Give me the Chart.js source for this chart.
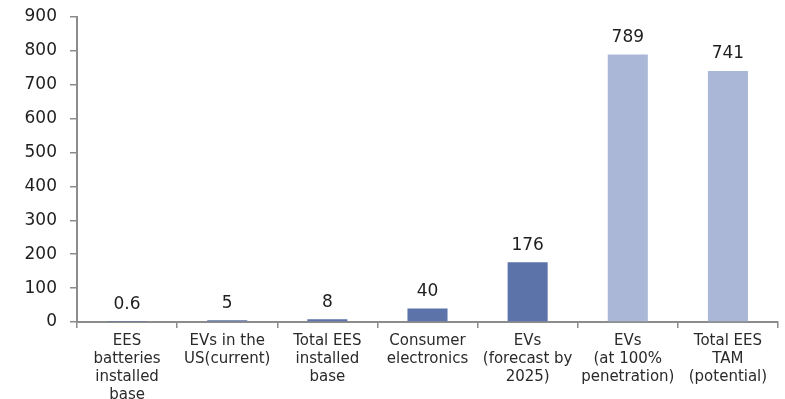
<!DOCTYPE html>
<html>
<head>
<meta charset="utf-8">
<script src="https://cdn.jsdelivr.net/npm/chart.js@4/dist/chart.umd.min.js"></script>
<style>
    html, body { margin: 0; padding: 0; background: #fff; }
    #wrap { width: 785px; height: 399px; }
</style>
</head>
<body>
<div id="wrap"><canvas id="barChart" width="785" height="399"></canvas></div>
<script>
const categories = [
    ["EES", "batteries", "installed", "base"],
    ["EVs in the", "US(current)"],
    ["Total EES", "installed", "base"],
    ["Consumer", "electronics"],
    ["EVs", "(forecast by", "2025)"],
    ["EVs", "(at 100%", "penetration)"],
    ["Total EES", "TAM", "(potential)"]
];
const values = [0.6, 5, 8, 40, 176, 789, 741];
const valueLabels = ["0.6", "5", "8", "40", "176", "789", "741"];
const yTicks = [0, 100, 200, 300, 400, 500, 600, 700, 800, 900];

const darkBar = "#5c73a9";
const lightBar = "#aab7d6";
const barColors = values.map((v, i) => i >= 5 ? lightBar : darkBar);

// draws the number above each bar
const valueLabelPlugin = {
    id: "valueLabels",
    afterDatasetsDraw(chart) {
        const ctx = chart.ctx;
        const meta = chart.getDatasetMeta(0);
        ctx.save();
        ctx.font = "17px 'DejaVu Sans'";
        ctx.fillStyle = "#1e1e1e";
        ctx.textAlign = "center";
        ctx.textBaseline = "middle";
        meta.data.forEach((bar, i) => {
            ctx.fillText(valueLabels[i], bar.x, bar.y - 17);
        });
        ctx.restore();
    }
};

new Chart(document.getElementById("barChart").getContext("2d"), {
    type: "bar",
    data: {
        labels: categories,
        datasets: [{
            data: values,
            backgroundColor: barColors,
            borderWidth: 0,
            barPercentage: 0.8,
            categoryPercentage: 0.5
        }]
    },
    options: {
        responsive: false,
        animation: false,
        layout: { padding: { top: 17, right: 7, left: 0, bottom: 0 } },
        plugins: {
            legend: { display: false },
            tooltip: { enabled: false }
        },
        scales: {
            x: {
                grid: {
                    offset: true,
                    drawOnChartArea: false,
                    drawTicks: true,
                    tickLength: 6,
                    color: "#8c8c8c",
                    lineWidth: 1.5
                },
                border: { color: "#8c8c8c", width: 2 },
                ticks: {
                    color: "#2a2a2a",
                    font: { family: "'DejaVu Sans'", size: 15 },
                    padding: 4,
                    maxRotation: 0,
                    autoSkip: false
                },
                afterFit: axis => { axis.height = 77; axis.paddingLeft = 0; axis.paddingRight = 0; }
            },
            y: {
                min: 0,
                max: 900,
                afterBuildTicks: axis => { axis.ticks = yTicks.map(v => ({ value: v })); },
                grid: {
                    drawOnChartArea: false,
                    drawTicks: true,
                    tickLength: 7,
                    color: "#8c8c8c",
                    lineWidth: 1.5
                },
                border: { color: "#8c8c8c", width: 2 },
                ticks: {
                    color: "#1e1e1e",
                    font: { family: "'DejaVu Sans'", size: 17 },
                    padding: 13
                },
                afterFit: axis => { axis.width = 77; axis.paddingTop = 0; axis.paddingBottom = 0; }
            }
        }
    },
    plugins: [valueLabelPlugin]
});
</script>
</body>
</html>
